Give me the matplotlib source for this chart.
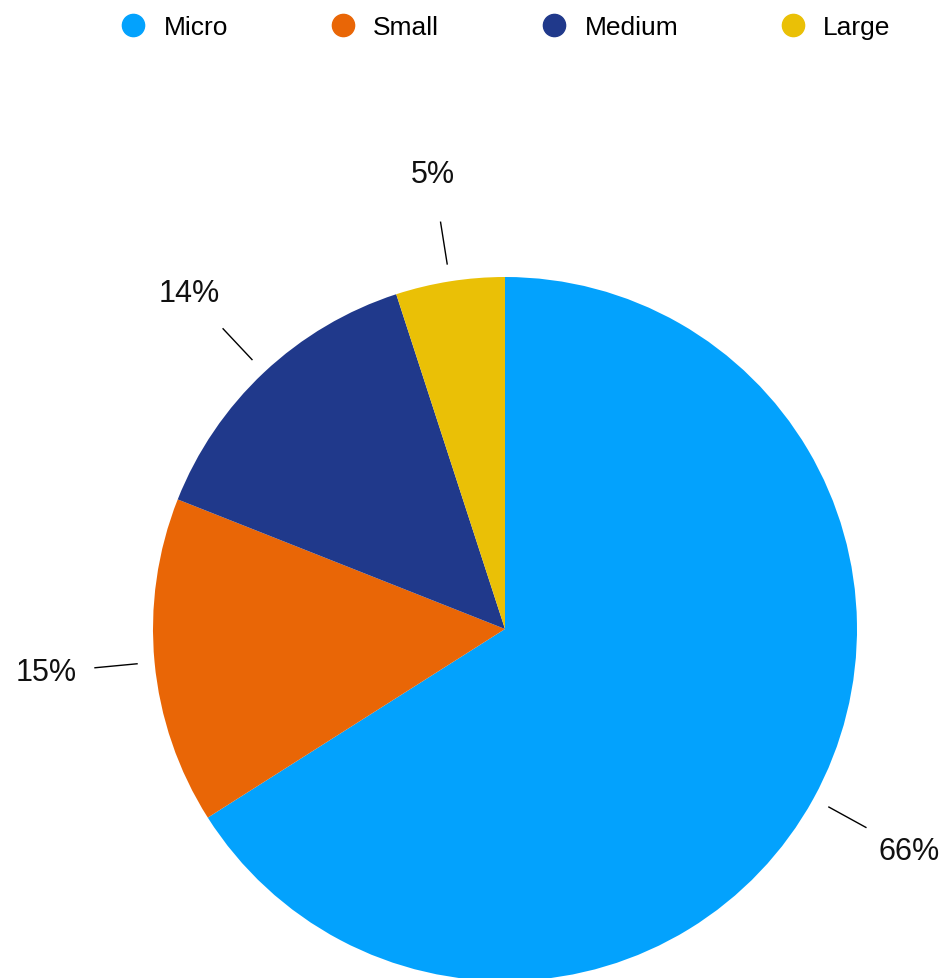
import matplotlib.pyplot as plt
from matplotlib.lines import Line2D
import numpy as np

plt.rcParams['font.family'] = ['Liberation Sans', 'DejaVu Sans']

categories = ["Micro", "Small", "Medium", "Large"]
shares = [66, 15, 14, 5]
colors = ["#03A2FD", "#E96606", "#20398B", "#EAC006"]

W, H = 944, 979
fig = plt.figure(figsize=(W / 100, H / 100), dpi=100)
ax = fig.add_axes([0, 0, 1, 1])

cx, cy, r = 505, H - 630, 352
wedges, _ = ax.pie(shares, colors=colors, startangle=90, counterclock=False,
                   center=(cx, cy), radius=r, frame=True,
                   wedgeprops=dict(linewidth=0))
ax.set_xlim(0, W)
ax.set_ylim(0, H)
ax.set_aspect('equal')
ax.axis('off')

# leader lines + percentage labels at each wedge's mid angle
for w, v in zip(wedges, shares):
    ang = np.deg2rad((w.theta1 + w.theta2) / 2)
    dx, dy = np.cos(ang), np.sin(ang)
    ax.plot([cx + dx * r * 1.05, cx + dx * r * 1.17],
            [cy + dy * r * 1.05, cy + dy * r * 1.17], color='black', lw=1)
    ax.text(cx + dx * r * 1.31, cy + dy * r * 1.31, f"{v}%",
            ha='center', va='center', fontsize=22, color='#111111')

handles = [Line2D([], [], marker='o', linestyle='', markersize=16,
                  markerfacecolor=c, markeredgecolor=c) for c in colors]
fig.legend(handles, categories, loc='upper center', bbox_to_anchor=(0.534, 1.008),
           ncol=4, frameon=False, fontsize=19, handletextpad=0.55,
           columnspacing=3.75, handlelength=1.2)

fig.savefig('out.png', dpi=100)
